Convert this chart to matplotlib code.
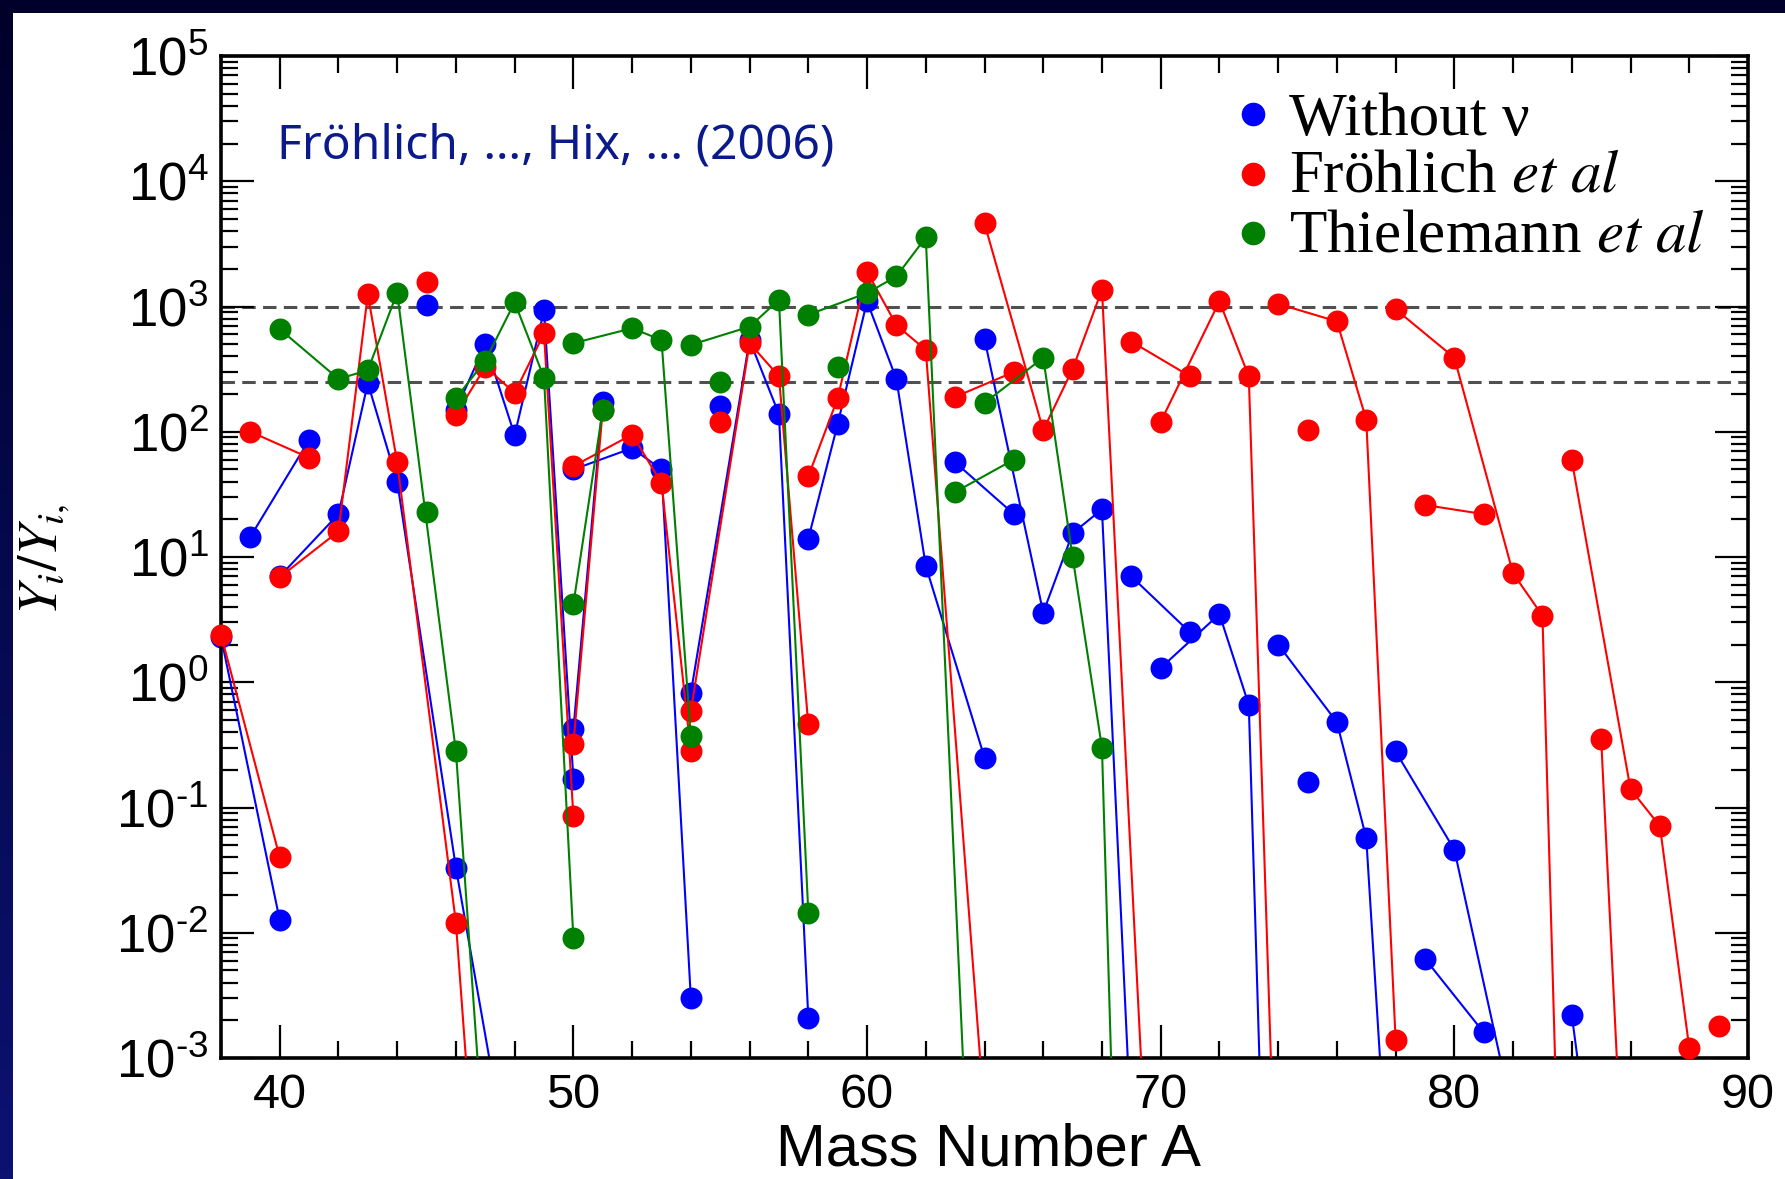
import numpy as np
import matplotlib
matplotlib.use("Agg")
import matplotlib.pyplot as plt
from matplotlib.patches import Rectangle
from matplotlib.ticker import FixedLocator, MultipleLocator, NullFormatter, FuncFormatter

plt.rcParams['font.family'] = ['Liberation Sans', 'DejaVu Sans']
plt.rcParams['mathtext.fontset'] = 'stix'

##########################################################################
## Data: Y_i / Y_i,sun per isotope chain (mass number A, ratio)
## values below 1e-3 are off the plot, only the line towards them shows
##########################################################################

# "Without nu"
blue_A = [[38, 40], [39, 41], [40, 42, 43, 44, 46, 48], [45],
          [46, 47, 48, 49, 50], [50, 51], [50, 52, 53, 54], [55],
          [54, 56, 57, 58], [58, 59, 60, 61, 62, 64], [63, 65],
          [64, 66, 67, 68, 70], [69, 71], [70, 72, 73, 74], [75],
          [74, 76, 77, 78], [79, 81], [78, 80, 82], [84, 86]]
blue_Y = [[2.3, 0.0126], [14.5, 86], [7.0, 22, 245, 40, 0.033, 7e-5], [1030],
          [150, 500, 94, 930, 0.17], [0.42, 174], [50, 74, 50, 0.003], [160],
          [0.82, 540, 138, 0.0021], [14, 115, 1100, 263, 8.5, 0.25], [57, 22],
          [550, 3.6, 15.5, 24, 2.5e-9], [7.0, 2.5], [1.3, 3.5, 0.66, 1e-8], [0.16],
          [2.0, 0.48, 0.057, 1e-5], [0.0062, 0.0016], [0.28, 0.046, 3.4e-4], [0.0022, 6e-7]]

# "Froehlich et al"
red_A = [[38, 40], [39, 41], [40, 42, 43, 44, 46, 48], [45],
         [46, 47, 48, 49, 50], [50, 51], [50, 52, 53, 54], [55],
         [54, 56, 57, 58], [58, 59, 60, 61, 62, 64], [63, 65],
         [64, 66, 67, 68, 70], [69, 71], [70, 72, 73, 74], [75],
         [74, 76, 77, 78], [78, 80, 82, 83, 84], [79, 81],
         [84, 86, 87, 88], [85, 87], [89]]
red_Y = [[2.4, 0.040], [100, 62], [6.9, 16, 1250, 57, 0.012, 5e-9], [1580],
         [137, 330, 204, 610, 0.085], [0.32, 150], [53, 95, 39, 0.28], [120],
         [0.59, 510, 277, 0.46], [44, 185, 1900, 710, 450, 3.5e-4], [190, 300],
         [4600, 103, 316, 1360, 8e-7], [525, 277], [120, 1100, 277, 1.6e-5], [103],
         [1050, 760, 125, 0.0014], [950, 390, 7.4, 3.4, 2e-8], [26, 22],
         [59, 0.14, 0.071, 0.0012], [0.35, 1e-10], [0.0018]]

# "Thielemann et al"
green_A = [[40, 42, 43, 44, 46, 48], [45], [46, 47, 48, 49, 50], [50, 51],
           [50, 52, 53, 54], [55], [54, 56, 57, 58], [58, 60, 61, 62, 64], [59],
           [63, 65], [64, 66, 67, 68, 70]]
green_Y = [[660, 264, 310, 1290, 0.28, 6e-8], [23], [185, 370, 1080, 270, 0.009], [4.2, 150],
           [510, 670, 540, 0.37], [250], [494, 690, 1130, 0.0145], [860, 1280, 1740, 3560, 1.6e-7], [330],
           [33, 60], [170, 390, 10, 0.30, 3e-17]]

ref_levels = [1000, 250]
y_decades = [-3, -2, -1, 0, 1, 2, 3, 4, 5]
x_ticks = [40, 50, 60, 70, 80, 90]
labels = ["Without \u03bd", "Fr\u00f6hlich $\\mathit{et\\ al}$", "Thielemann $\\mathit{et\\ al}$"]
colors = ['#0000ff', '#ff0000', '#008000']

W, H = 1785, 1179
fig = plt.figure(figsize=(W / 100, H / 100), dpi=100)

#### background: navy frame around a white panel ####
bg = fig.add_axes([0, 0, 1, 1], zorder=-10)
grad = np.linspace(0, 1, 256).reshape(-1, 1)
cmap = matplotlib.colors.LinearSegmentedColormap.from_list('navy', ['#00002a', '#0b1272'])
bg.imshow(grad, aspect='auto', cmap=cmap, extent=[0, 1, 0, 1], origin='upper')
bg.add_patch(Rectangle((13 / W, 0), 1, 1 - 13 / H, facecolor='white', edgecolor='none'))
bg.set_xlim(0, 1)
bg.set_ylim(0, 1)
bg.axis('off')

ax = fig.add_axes([221 / W, (H - 1058) / H, 1527 / W, 1002 / H])
ax.set_yscale('log')
ax.set_xlim(38, 90)
ax.set_ylim(1e-3, 1e5)

for lev in ref_levels:
  ax.axhline(lev, color='#505050', lw=2.2, dashes=(4.4, 2.4), zorder=1)


def drawSeries(A_list, Y_list, color, z):
  for A, Y in zip(A_list, Y_list):
    if len(A) > 1:
      ax.plot(A, Y, color=color, lw=1.5, zorder=z)
    vis = [(a, y) for a, y in zip(A, Y) if y >= 1e-3]
    if vis:
      ax.plot([v[0] for v in vis], [v[1] for v in vis], 'o', ms=15.8,
              color=color, mec='none', clip_on=False, zorder=z + 0.5)


drawSeries(blue_A, blue_Y, colors[0], 2)
drawSeries(red_A, red_Y, colors[1], 3)
drawSeries(green_A, green_Y, colors[2], 4)


def powLabel(v, pos):
  # exponent written with a short hyphen like the original
  e = int(round(np.log10(v)))
  return r"$\mathdefault{10^{%s}}$" % (str(e).replace('-', '\u2010'))


#### ticks and frame ####
ax.xaxis.set_major_locator(FixedLocator(x_ticks))
ax.xaxis.set_minor_locator(MultipleLocator(2))
ax.yaxis.set_major_locator(FixedLocator([10.0 ** d for d in y_decades]))
ax.yaxis.set_minor_locator(FixedLocator([m * 10.0 ** d for d in y_decades[:-1] for m in range(2, 10)]))
ax.yaxis.set_major_formatter(FuncFormatter(powLabel))
ax.yaxis.set_minor_formatter(NullFormatter())
ax.tick_params(which='both', direction='in', top=True, right=True, width=1.6, color='black')
ax.tick_params(which='major', length=24)
ax.tick_params(which='minor', length=12.5)
ax.tick_params(axis='x', which='major', labelsize=35, pad=11)
ax.tick_params(axis='y', which='major', labelsize=38, pad=9)
for sp in ax.spines.values():
  sp.set_linewidth(2.6)

fig.text(988 / W, 13 / H, "Mass Number A", fontsize=43, ha='center', va='baseline')
fig.text(44 / W, 1 - 560 / H, r"$Y_i/Y_{i,}$", fontsize=40, rotation=90, ha='center', va='center')

ax.text(0.0367, 0.898, "Fr\u00f6hlich, \u2026, Hix, \u2026 (2006)", transform=ax.transAxes,
        fontsize=34.5, color='#0a1a8c', family=['Noto Sans', 'DejaVu Sans'], va='baseline')

#### legend drawn by hand (tight rows like the original) ####
leg_my = [0.942, 0.882, 0.823]
leg_ty = [0.9214, 0.8643, 0.8044]
for lab, col, my, ty in zip(labels, colors, leg_my, leg_ty):
  ax.plot([0.676], [my], 'o', ms=17, color=col, mec='none', transform=ax.transAxes, clip_on=False, zorder=10)
  ax.text(0.6994, ty, lab, transform=ax.transAxes, fontsize=44, va='baseline',
          family=['Liberation Serif', 'DejaVu Serif'], zorder=10)

plt.savefig("out.png", dpi=100)
